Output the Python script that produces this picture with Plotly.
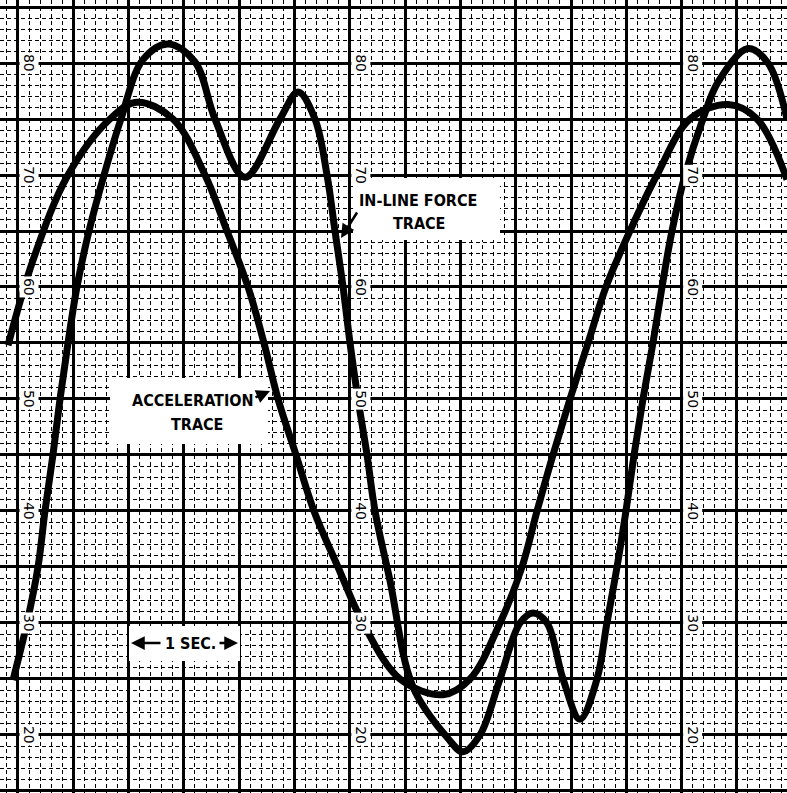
import plotly.graph_objects as go

# Chart-recorder strip: acceleration and in-line force traces (time in seconds)
accel_t = [-0.090, 0.136, 0.452, 0.832, 1.076, 1.401, 1.691, 1.890, 2.080, 2.224,
           2.351, 2.514, 2.676, 2.893, 3.119, 3.454, 3.843, 4.087, 4.358, 4.557,
           4.693, 4.837, 4.991, 5.154, 5.316, 5.533, 5.777, 6.076, 6.420, 6.682, 6.953]
accel_v = [54.8, 62.4, 70.0, 75.0, 76.5, 75.0, 70.0, 65.0, 60.0, 55.0,
           50.0, 45.0, 40.0, 35.0, 30.0, 25.0, 23.6, 25.0, 30.0, 35.0,
           40.0, 45.0, 50.0, 55.0, 60.0, 65.0, 70.0, 75.0, 76.3, 75.0, 69.6]

force_t = [-0.045, 0.081, 0.181, 0.244, 0.316, 0.380, 0.452, 0.533, 0.642, 0.778,
           0.931, 1.130, 1.356, 1.600, 1.781, 2.052, 2.369, 2.532, 2.685, 2.794,
           2.866, 2.939, 3.002, 3.074, 3.156, 3.228, 3.363, 3.571, 3.879, 4.024,
           4.177, 4.358, 4.539, 4.656, 4.783, 4.928, 5.081, 5.235, 5.325, 5.416,
           5.497, 5.570, 5.651, 5.741, 5.823, 5.913, 6.031, 6.193, 6.329, 6.600,
           6.781, 6.953]
force_v = [24.9, 30.0, 35.0, 40.0, 45.0, 50.0, 55.0, 60.0, 65.0, 70.0,
           75.0, 80.3, 81.7, 80.1, 75.0, 69.8, 75.0, 77.4, 75.0, 70.0,
           65.0, 60.0, 55.0, 50.0, 45.0, 40.0, 33.8, 24.3, 19.8, 18.5,
           20.0, 25.0, 30.0, 30.9, 30.0, 25.0, 21.4, 25.0, 30.0, 35.0,
           40.0, 45.0, 50.0, 55.0, 60.0, 65.0, 70.0, 75.0, 78.3, 81.3,
           80.0, 75.0]

# Scale numbers printed on the chart paper, repeated in three columns
scale_values = [80, 70, 60, 50, 40, 30, 20]
scale_columns_t = [0.1, 3.1, 6.1]

W, H = 787, 793
X_RANGE = [-0.1627, 6.953]
Y_RANGE = [14.82, 85.625]


def px(x):
    return x / W


def py(y):
    return 1 - y / H


fig = go.Figure()
for t, v in ((accel_t, accel_v), (force_t, force_v)):
    fig.add_trace(go.Scatter(
        x=t, y=v, mode="lines", hoverinfo="skip",
        line=dict(color="black", width=7, shape="spline", smoothing=1.0),
    ))

label_font = dict(family="'Liberation Sans Narrow', 'DejaVu Sans Condensed', 'Liberation Sans', sans-serif",
                  size=16, color="black")

# white patches on the paper behind the hand lettering
shapes = []
for x0, y0, x1, y1 in [(353, 178, 500, 240), (110, 378, 268, 444), (129, 626, 240, 661)]:
    shapes.append(dict(type="rect", xref="paper", yref="paper", layer="above",
                       x0=px(x0), x1=px(x1), y0=py(y1), y1=py(y0),
                       fillcolor="white", line=dict(width=0)))

annotations = []
for t in scale_columns_t:
    for v in scale_values:
        annotations.append(dict(
            x=t, y=v, xref="x", yref="y", text=str(v), showarrow=False,
            xanchor="center", yanchor="middle",
            textangle=90, bgcolor="white", borderpad=1,
            font=dict(family="DejaVu Sans, sans-serif", size=14, color="black"),
        ))

for text, x, y in [("IN-LINE FORCE", 418, 200), ("TRACE", 419, 224),
                   ("ACCELERATION", 193, 400), ("TRACE", 197, 424),
                   ("1 SEC.", 190, 643)]:
    annotations.append(dict(x=px(x), y=py(y), xref="paper", yref="paper", text=f"<b>{text}</b>",
                            xanchor="center", yanchor="middle",
                            showarrow=False, font=label_font))

# pointer arrows
for hx, hy, ax, ay in [(341, 238, 17, -27), (270, 391, -16, 7), (131, 643, 31, 0), (238, 643, -20, 0)]:
    annotations.append(dict(x=px(hx), y=py(hy), xref="paper", yref="paper", text="",
                            showarrow=True, ax=ax, ay=ay, arrowhead=2, arrowsize=1.1,
                            arrowwidth=2.5, arrowcolor="black"))

axis_common = dict(showticklabels=False, ticks="", zeroline=False, showline=False,
                   showgrid=True, gridcolor="black", gridwidth=2.5, tick0=0)

fig.update_layout(
    width=W, height=H, margin=dict(l=0, r=0, t=0, b=0),
    paper_bgcolor="white", plot_bgcolor="white", showlegend=False,
    xaxis=dict(range=X_RANGE, dtick=0.5,
               minor=dict(dtick=0.1, tick0=0, showgrid=True, gridcolor="black",
                          gridwidth=1.3, griddash="4px,3px"),
               **axis_common),
    yaxis=dict(range=Y_RANGE, dtick=5,
               minor=dict(dtick=1, tick0=0, showgrid=True, gridcolor="black",
                          gridwidth=1.3, griddash="4px,3px"),
               **axis_common),
    shapes=shapes, annotations=annotations,
)

fig.write_html("out.html")
